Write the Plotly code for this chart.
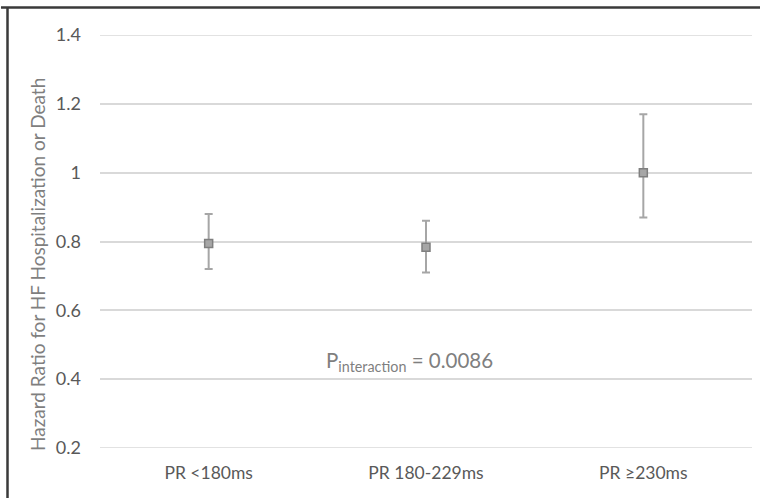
import plotly.graph_objects as go

categories = ["PR <180ms", "PR 180-229ms", "PR ≥230ms"]
hazard_ratio = [0.794, 0.783, 1.0]
ci_upper = [0.88, 0.86, 1.17]
ci_lower = [0.72, 0.71, 0.87]
y_ticks = [0.2, 0.4, 0.6, 0.8, 1, 1.2, 1.4]
y_tick_labels = ["0.2", "0.4", "0.6", "0.8", "1", "1.2", "1.4"]
y_title = "Hazard Ratio for HF Hospitalization or Death"
p_text = "P<sub>interaction</sub> = 0.0086"

err_plus = [u - v for u, v in zip(ci_upper, hazard_ratio)]
err_minus = [v - l for v, l in zip(hazard_ratio, ci_lower)]

FONT = "Lato"
W, H = 760, 498
ml, mr, mt, mb = 100, 8, 35, 50
GRID = "#d9d9d9"

fig = go.Figure()
fig.add_trace(go.Scatter(
    x=categories, y=hazard_ratio, mode="markers",
    marker=dict(symbol="square", size=8, color="#a6a6a6",
                line=dict(color="#7f7f7f", width=1.5)),
    error_y=dict(type="data", symmetric=False, array=err_plus,
                 arrayminus=err_minus, color="#a6a6a6", thickness=2, width=4),
    showlegend=False, hoverinfo="skip",
))

pw = W - ml - mr
ph = H - mt - mb

fig.update_layout(
    width=W, height=H,
    margin=dict(l=ml, r=mr, t=mt, b=mb, autoexpand=False),
    paper_bgcolor="white", plot_bgcolor="white",
    font=dict(family=FONT, color="#595959", size=14),
    xaxis=dict(type="category", range=[-0.5, 2.5], automargin=False,
               showgrid=False, showline=False, zeroline=False,
               ticks="", ticklabelstandoff=12,
               tickfont=dict(size=17.5, color="#595959")),
    yaxis=dict(range=[y_ticks[0], y_ticks[-1]], tickvals=y_ticks, ticktext=y_tick_labels,
               automargin=False,
               showgrid=True, gridcolor=GRID, gridwidth=1.5,
               zeroline=False, showline=False, ticks="", ticklabelstandoff=18,
               tickfont=dict(size=18, color="#595959")),
    annotations=[
        dict(text=p_text, xref="x", yref="y", x=0.926, y=0.45, showarrow=False,
             font=dict(size=20.5, color="#7f7f7f"), xanchor="center", yanchor="middle"),
        dict(text=y_title, xref="paper", yref="y", x=(38 - ml) / pw, y=0.732,
             textangle=-90, showarrow=False, xanchor="center", yanchor="middle",
             font=dict(size=19, color="#7f7f7f")),
    ],
)

# edge gridlines (plotly omits gridlines that sit on the range ends)
for yv in (y_ticks[0], y_ticks[-1]):
    fig.add_shape(type="line", xref="paper", yref="y", x0=0, x1=1, y0=yv, y1=yv,
                  line=dict(color=GRID, width=1.5), layer="below")

x_left = (7.5 - ml) / pw
y_top = 1 + (mt - 7.5) / ph
fig.add_shape(type="line", xref="paper", yref="paper", x0=x_left, x1=x_left,
              y0=y_top, y1=-mb / ph - 0.05, line=dict(color="#3a3a3a", width=2.5))
fig.add_shape(type="line", xref="paper", yref="paper", x0=x_left - 0.01, x1=(W - ml) / pw + 0.05,
              y0=y_top, y1=y_top, line=dict(color="#3a3a3a", width=2.5))

fig.write_html("out.html", config={"displayModeBar": False},
               post_script="document.body.style.margin='0';document.body.style.overflow='hidden';")
